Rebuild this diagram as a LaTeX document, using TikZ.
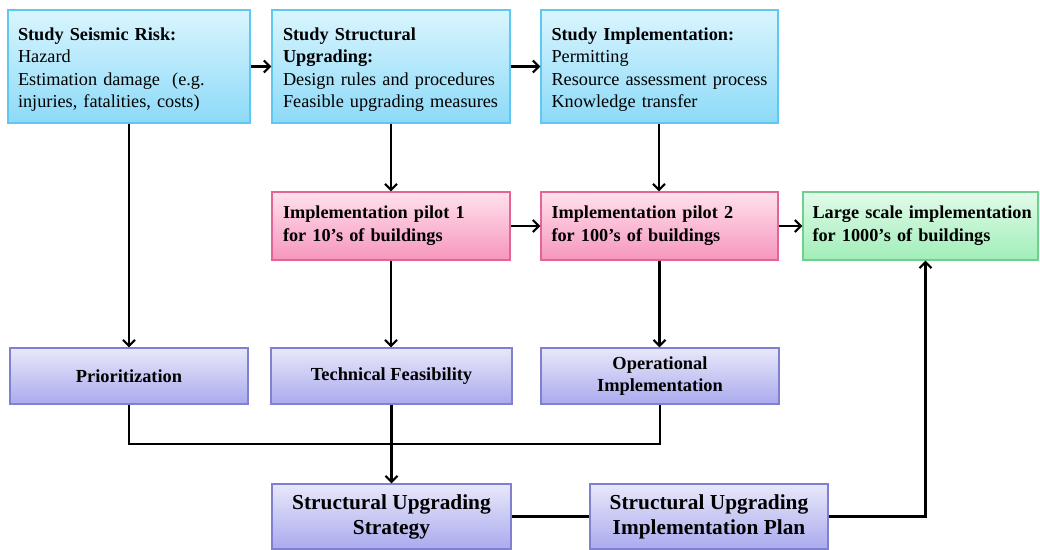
\documentclass[tikz,border=0pt]{standalone}
\usepackage{fontspec}
\setmainfont{Liberation Serif}
\usetikzlibrary{arrows.meta,calc}
\begin{document}
\begin{tikzpicture}[x=0.75pt,y=-0.75pt,
  base/.style={rectangle, line width=0.8pt, inner sep=0pt, font=\fontsize{13.7}{16.9}\selectfont},
  cyanbox/.style={base, draw={rgb,255:red,95;green,200;blue,240}, top color={rgb,255:red,218;green,245;blue,254}, bottom color={rgb,255:red,140;green,218;blue,248}},
  pinkbox/.style={base, draw={rgb,255:red,228;green,100;blue,150}, top color={rgb,255:red,255;green,225;blue,236}, bottom color={rgb,255:red,246;green,150;blue,190}, font=\bfseries\fontsize{13.7}{17.3}\selectfont},
  greenbox/.style={base, draw={rgb,255:red,110;green,208;blue,140}, top color={rgb,255:red,226;green,251;blue,233}, bottom color={rgb,255:red,160;green,238;blue,185}, font=\bfseries\fontsize{13.7}{17.3}\selectfont},
  purplebox/.style={base, draw={rgb,255:red,128;green,128;blue,208}, top color={rgb,255:red,232;green,232;blue,250}, bottom color={rgb,255:red,170;green,170;blue,238}, align=center, font=\bfseries\fontsize{13.8}{16.5}\selectfont},
  bigbox/.style={purplebox, font=\bfseries\fontsize{16}{18.8}\selectfont},
  conn/.style={line width=1.6pt, draw=black},
  arr/.style={conn, -{Straight Barb[length=4.5pt,width=9pt,line width=1.6pt]}}
]
\useasboundingbox (0,0) rectangle (1040,550);

% top row
\node[cyanbox, minimum width=181.5pt, minimum height=84.75pt, text width=166.5pt, align=left] (A) at (129,66.5)
  {\mbox{\rule{0pt}{14pt}\textbf{Study Seismic Risk:}}\\\mbox{Hazard}\\\mbox{Estimation damage~ (e.g.}\\\mbox{injuries, fatalities, costs)}};
\node[cyanbox, minimum width=178.5pt, minimum height=84.75pt, text width=162pt, align=left] (B) at (391,66.5)
  {\mbox{\rule{0pt}{14pt}\textbf{Study Structural}}\\\mbox{\textbf{Upgrading:}}\\\mbox{Design rules and procedures}\\\mbox{Feasible upgrading measures}};
\node[cyanbox, minimum width=177.75pt, minimum height=84.75pt, text width=162pt, align=left] (C) at (659.5,66.5)
  {\mbox{\rule{0pt}{14pt}\textbf{Study Implementation:}}\\\mbox{Permitting}\\\mbox{Resource assessment process}\\\mbox{Knowledge transfer}};

% middle row
\node[pinkbox, minimum width=178.5pt, minimum height=51pt, text width=162pt, align=left] (P1) at (391,226)
  {\mbox{Implementation pilot 1}\\\mbox{for 10’s of buildings}};
\node[pinkbox, minimum width=177.75pt, minimum height=51pt, text width=162pt, align=left] (P2) at (659.5,226)
  {\mbox{Implementation pilot 2}\\\mbox{for 100’s of buildings}};
\node[greenbox, minimum width=176.25pt, minimum height=51pt, text width=162pt, align=left] (L) at (920.5,226)
  {\mbox{Large scale implementation}\\\mbox{for 1000’s of buildings}};

% third row
\node[purplebox, minimum width=178.5pt, minimum height=42pt] (Pr) at (129,376) {Prioritization};
\node[purplebox, minimum width=180.75pt, minimum height=42pt] (T) at (391.5,376) {Technical Feasibility};
\node[purplebox, minimum width=178.5pt, minimum height=42pt] (O) at (660,376) {Operational\\Implementation};

% bottom row
\node[bigbox, minimum width=179.25pt, minimum height=48.75pt] (S) at (391.5,516.5) {Structural Upgrading\\Strategy};
\node[bigbox, minimum width=178.5pt, minimum height=48.75pt] (Pl) at (709,516.5) {Structural Upgrading\\Implementation Plan};

\coordinate (j) at (391.5,444);

% connectors
\draw[arr] (A) -- (B);
\draw[arr] (B) -- (C);
\draw[arr] (A.south) -- (Pr.north);
\draw[arr] (B.south) -- (P1.north);
\draw[arr] ([xshift=-0.4pt]C.south) -- ([xshift=-0.4pt]P2.north);
\draw[arr] (P1.south) -- (T.north -| P1.south);
\draw[arr] (P2.south) -- (O.north -| P2.south);
\draw[arr] (P1) -- (P2);
\draw[arr] (P2) -- (L);
\draw[conn] (Pr.south) -- (Pr.south |- j) -- (O.south |- j) -- (O.south);
\draw[arr] (T.south) -- (S.north);
\draw[conn] (S) -- (Pl);
\draw[arr] (Pl.east) -| ([xshift=3.75pt]L.south);
\end{tikzpicture}
\end{document}
